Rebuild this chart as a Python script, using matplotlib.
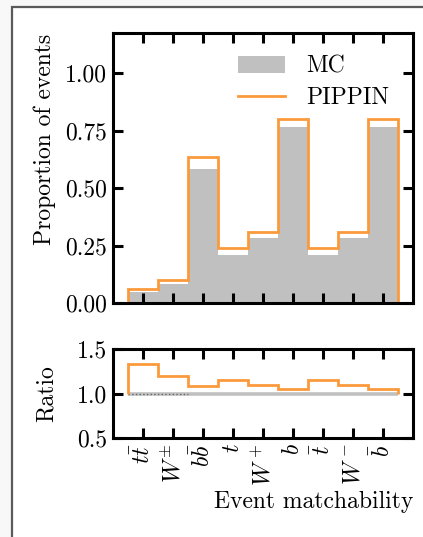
import numpy as np
import matplotlib
matplotlib.use("Agg")
import matplotlib.pyplot as plt
from matplotlib.patches import Rectangle

plt.rcParams['font.family'] = 'serif'
plt.rcParams['font.serif'] = ['cmr10']
plt.rcParams['mathtext.fontset'] = 'cm'
plt.rcParams['axes.formatter.use_mathtext'] = True

categories = [r'$t\bar{t}$', r'$W^{\pm}$', r'$b\bar{b}$', r'$t$', r'$W^+$',
              r'$b$', r'$\bar{t}$', r'$W^-$', r'$\bar{b}$']
mc = [0.046, 0.084, 0.585, 0.208, 0.283, 0.766, 0.208, 0.283, 0.766]
pippin = [0.061, 0.100, 0.637, 0.238, 0.311, 0.800, 0.238, 0.311, 0.800]
ratio = [1.33, 1.20, 1.085, 1.15, 1.095, 1.045, 1.15, 1.095, 1.045]

orange = '#fb9a3c'
gray = '#c0c0c0'
fs = 17

fig = plt.figure(figsize=(4.23, 5.37), dpi=100, facecolor='#f8f8f8')
fig.patches.append(Rectangle((12/423, -0.1), 1.2, 1 - 7/537 + 0.1,
                             transform=fig.transFigure, facecolor='white',
                             edgecolor='#5a5a5a', linewidth=1.6, zorder=-10))

n = len(categories)
x = np.arange(n)
edges = np.arange(n + 1) - 0.5

ax1 = fig.add_axes([113/423, 1 - 303/537, 300/423, 270/537])
ax2 = fig.add_axes([113/423, 1 - 438/537, 300/423, 89/537])
for ax in (ax1, ax2):
    ax.set_facecolor('white')
    for s in ax.spines.values():
        s.set_linewidth(2.2)
    ax.tick_params(direction='in', which='major', length=7, width=2.2,
                   top=True, right=True, labelsize=fs, pad=4)
    ax.set_xlim(-1, n)
    ax.set_xticks(x)

ax1.stairs(mc, edges, fill=True, color=gray, label='MC', zorder=1)
ax1.stairs(pippin, edges, color=orange, linewidth=2.0, label='PIPPIN', zorder=2)
ax1.set_ylim(0, 1.175)
ax1.set_yticks([0, 0.25, 0.5, 0.75, 1.0])
ax1.set_yticklabels(['0.00', '0.25', '0.50', '0.75', '1.00'])
ax1.set_xticklabels([])
ax1.set_ylabel('Proportion of events', fontsize=fs)
ax1.yaxis.set_label_coords(-0.19, 0.607)
ax1.legend(loc='upper right', frameon=False, fontsize=fs, handlelength=2.0,
           borderaxespad=0.3, labelspacing=0.4, handletextpad=0.9,
           bbox_to_anchor=(0.975, 0.977))

ax2.stairs(np.ones(n), edges, baseline=None, color=gray, linewidth=2.6, zorder=1)
ax2.hlines(1.0, edges[0], edges[2], colors='#666666', linestyles=':',
           linewidth=1.0, zorder=1.5)
ax2.stairs(ratio, edges, baseline=1.0, color=orange, linewidth=2.0, zorder=2)
ax2.set_ylim(0.5, 1.5)
ax2.set_yticks([0.5, 1.0, 1.5])
ax2.set_yticklabels(['0.5', '1.0', '1.5'])
ax2.set_xticklabels(categories, rotation=90, fontsize=fs)
ax2.set_ylabel('Ratio', fontsize=fs)
ax2.yaxis.set_label_coords(-0.185, 0.5)
ax2.set_xlabel('Event matchability', fontsize=fs, loc='right')

fig.savefig('out.png', dpi=100, facecolor=fig.get_facecolor())
